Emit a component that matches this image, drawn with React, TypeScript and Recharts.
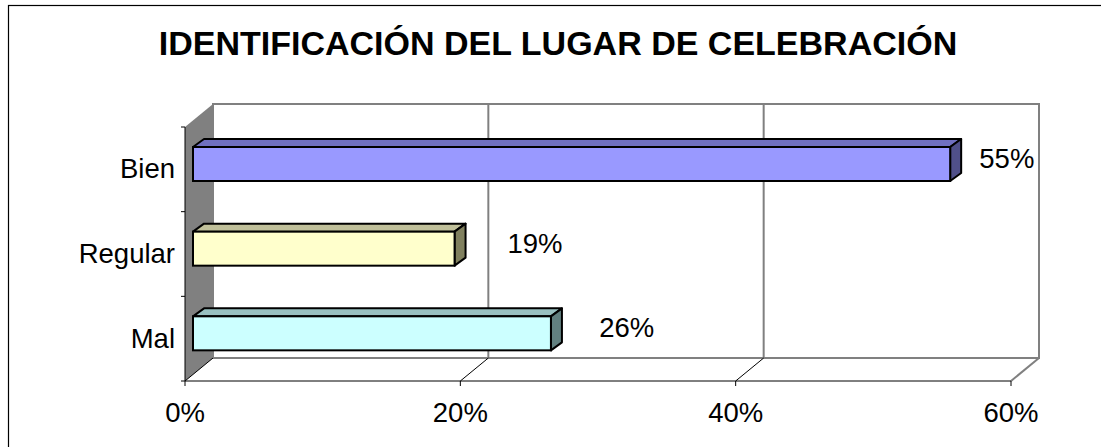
import { BarChart, Bar, XAxis, YAxis, CartesianGrid } from 'recharts'

const categories = ['Bien', 'Regular', 'Mal']
const values = [55, 19, 26]
const xTicks = [0, 20, 40, 60]
const title = 'IDENTIFICACIÓN DEL LUGAR DE CELEBRACIÓN'

// front / top / side colours for each category
const palette = [
  { front: '#9999FF', top: '#7070C0', side: '#50508A' },
  { front: '#FFFFCC', top: '#C0C09A', side: '#80805E' },
  { front: '#CCFFFF', top: '#99C0C0', side: '#628080' },
]

const data = categories.map((name, i) => ({ name, value: values[i] }))

const W = 1101
const H = 447
const PLOT_LEFT = 185
const PLOT_RIGHT = 1011
const PLOT_TOP = 127
const PLOT_BOTTOM = 381
const DX = 28 // depth of the back wall
const DY = -23
const Y_AXIS_W = 120
const X_AXIS_H = 40
const FONT = '"Liberation Sans", Arial, sans-serif'
const GRAY = '#808080'

const bandSize = (PLOT_BOTTOM - PLOT_TOP) / categories.length

const Bar3D = (props: any) => {
  const { x, y, width, height, payload } = props
  const i = categories.indexOf(payload?.name)
  const c = palette[i] ?? palette[0]
  const fx = x + 8
  const fy = y - 5
  const w = width
  const h = height
  const ox = 11
  const oy = -8
  // excel puts the labels on a slightly shallower plane than the bars
  const lx = fx + 93 + w * 0.952
  return (
    <g>
      <polygon
        points={`${fx},${fy} ${fx + ox},${fy + oy} ${fx + w + ox},${fy + oy} ${fx + w},${fy}`}
        fill={c.top}
        stroke="#000"
        strokeWidth={2}
        strokeLinejoin="round"
      />
      <polygon
        points={`${fx + w},${fy} ${fx + w + ox},${fy + oy} ${fx + w + ox},${fy + h + oy} ${fx + w},${fy + h}`}
        fill={c.side}
        stroke="#000"
        strokeWidth={2}
        strokeLinejoin="round"
      />
      <rect x={fx} y={fy} width={w} height={h} fill={c.front} stroke="#000" strokeWidth={2} />
      <text x={lx} y={fy + h / 2 + 4} textAnchor="middle" fontFamily={FONT} fontSize={27.5} fill="#000">
        {`${payload?.value}%`}
      </text>
    </g>
  )
}

const GridLine = (props: any) => {
  const { x1 } = props
  const edge = x1 >= PLOT_RIGHT - 1
  return (
    <g>
      <line x1={x1 + DX} y1={PLOT_TOP + DY} x2={x1 + DX} y2={PLOT_BOTTOM + DY} stroke={GRAY} strokeWidth={2} />
      <line
        x1={x1}
        y1={PLOT_BOTTOM}
        x2={x1 + DX}
        y2={PLOT_BOTTOM + DY}
        stroke={edge ? GRAY : '#000'}
        strokeWidth={edge ? 2 : 1}
      />
    </g>
  )
}

const CategoryTick = (props: any) => {
  const { y, payload, index } = props
  const ax = PLOT_LEFT
  return (
    <g>
      <line x1={ax - 4} y1={y - bandSize / 2} x2={ax} y2={y - bandSize / 2} stroke="#000" />
      {index === categories.length - 1 && (
        <line x1={ax - 4} y1={y + bandSize / 2} x2={ax} y2={y + bandSize / 2} stroke="#000" />
      )}
      <text x={ax - 10} y={y + 9} textAnchor="end" fontFamily={FONT} fontSize={27.5} fill="#000">
        {payload.value}
      </text>
    </g>
  )
}

const Backdrop = () => (
  <svg width={W} height={H} style={{ position: 'absolute', left: 0, top: 0 }}>
    <rect x={0} y={0} width={W} height={H} fill="#fff" />
    <rect x={8.5} y={5.5} width={W + 20} height={H + 20} fill="none" stroke="#000" strokeWidth={1.2} />
    <text x={558} y={55} textAnchor="middle" fontFamily={FONT} fontWeight="bold" fontSize={34} fill="#000">
      {title}
    </text>
    <rect
      x={PLOT_LEFT + DX}
      y={PLOT_TOP + DY}
      width={PLOT_RIGHT - PLOT_LEFT}
      height={PLOT_BOTTOM - PLOT_TOP}
      fill="#fff"
      stroke={GRAY}
      strokeWidth={2}
    />
    <polygon
      points={`${PLOT_LEFT},${PLOT_TOP} ${PLOT_LEFT + DX},${PLOT_TOP + DY} ${PLOT_LEFT + DX},${PLOT_BOTTOM + DY} ${PLOT_LEFT},${PLOT_BOTTOM}`}
      fill={GRAY}
    />
  </svg>
)

export default function App() {
  return (
    <div style={{ position: 'absolute', left: 0, top: 0, width: W, height: H }}>
      <Backdrop />
      <div style={{ position: 'absolute', left: 0, top: 0 }}>
        <BarChart
          width={W}
          height={H}
          data={data}
          layout="vertical"
          margin={{
            top: PLOT_TOP,
            right: W - PLOT_RIGHT,
            bottom: H - PLOT_BOTTOM - X_AXIS_H,
            left: PLOT_LEFT - Y_AXIS_W,
          }}
        >
          <CartesianGrid horizontal={false} vertical={GridLine} stroke={GRAY} />
          <XAxis
            type="number"
            domain={[0, 60]}
            ticks={xTicks}
            height={X_AXIS_H}
            tickFormatter={(v: number) => `${v}%`}
            axisLine={{ stroke: '#000' }}
            tickLine={{ stroke: '#000' }}
            tickSize={5}
            tickMargin={16}
            tick={{ fill: '#000', fontSize: 27.5, fontFamily: FONT }}
            interval={0}
          />
          <YAxis
            type="category"
            dataKey="name"
            width={Y_AXIS_W}
            axisLine={{ stroke: '#000' }}
            tickLine={false}
            tick={CategoryTick}
            interval={0}
          />
          <Bar dataKey="value" barSize={34} shape={Bar3D} isAnimationActive={false} />
        </BarChart>
      </div>
    </div>
  )
}
